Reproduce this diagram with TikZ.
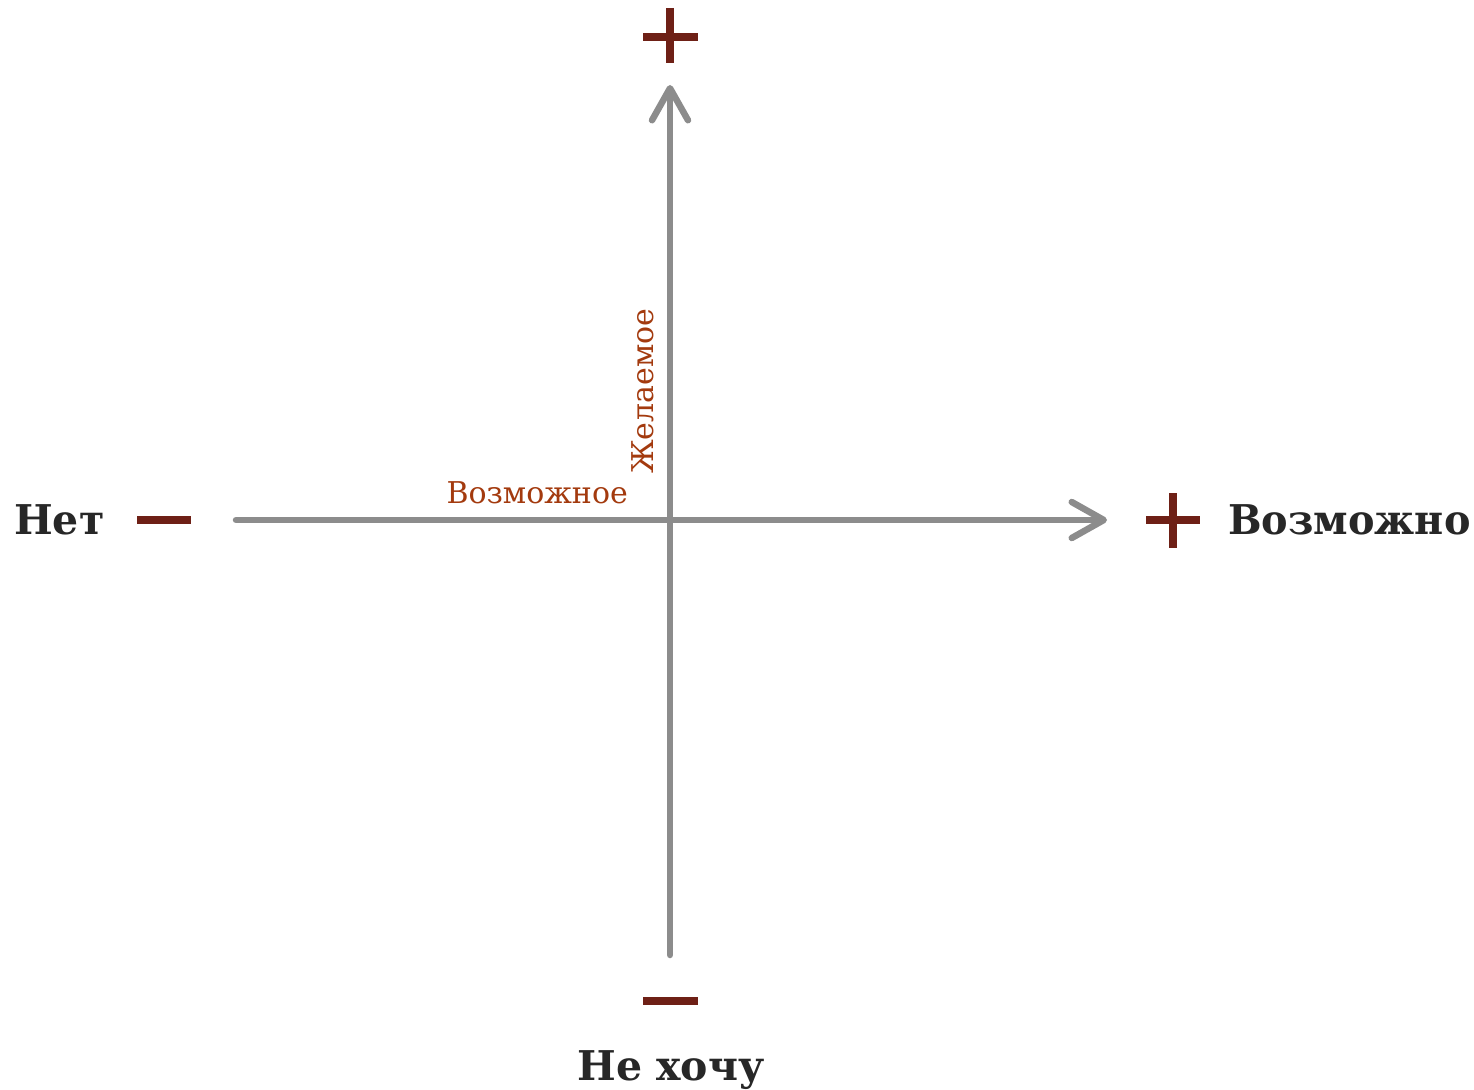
\documentclass[tikz,border=0pt]{standalone}
\usepackage{fontspec}
\setmainfont{DejaVu Serif}
\usetikzlibrary{arrows.meta}
\definecolor{axisgray}{HTML}{8C8C8C}
\definecolor{markred}{HTML}{6E2016}
\definecolor{labelorange}{HTML}{A33A0E}
\definecolor{textdark}{HTML}{272727}
\begin{document}
\begin{tikzpicture}[x=1pt,y=-1pt,
  axis/.style={draw=axisgray,line width=6.5pt,line cap=round,
    -{Straight Barb[length=32pt,width=36pt,round]}},
  signmark/.style={draw=markred,line width=8pt},
  bigword/.style={text=textdark,font=\bfseries\fontsize{41}{41}\selectfont,inner sep=0pt},
  smallword/.style={text=labelorange,font=\fontsize{30}{30}\selectfont,inner sep=0pt}]
\useasboundingbox (0,0) rectangle (1474,1089);
% axes
\coordinate (xs) at (236,520);
\coordinate (xe) at (1107,520);
\coordinate (ys) at (670,955);
\coordinate (ye) at (670,85);
\draw[axis] (xs) -- (xe);
\draw[axis] (ys) -- (ye);
% plus / minus marks
\coordinate (tp1) at (643,37); \coordinate (tp2) at (698,37);
\coordinate (tp3) at (670,8); \coordinate (tp4) at (670,63);
\draw[signmark] (tp1) -- (tp2); \draw[signmark] (tp3) -- (tp4);
\coordinate (rp1) at (1146,520); \coordinate (rp2) at (1200,520);
\coordinate (rp3) at (1173,493); \coordinate (rp4) at (1173,548);
\draw[signmark] (rp1) -- (rp2); \draw[signmark] (rp3) -- (rp4);
\coordinate (lm1) at (137,520); \coordinate (lm2) at (191,520);
\draw[signmark] (lm1) -- (lm2);
\coordinate (bm1) at (643,1001); \coordinate (bm2) at (698,1001);
\draw[signmark] (bm1) -- (bm2);
% labels
\node[bigword,anchor=base west] (net) at (14,534) {Нет};
\node[bigword,anchor=base west,xscale=0.97] (vozm) at (1228,534) {Возможно};
\node[bigword,anchor=base] (nekh) at (671,1080) {Не хочу};
\node[smallword,anchor=base east] (vozmoe) at (628,503) {Возможное};
\node[smallword,anchor=base west,rotate=90] (zhel) at (653,474) {Желаемое};
\end{tikzpicture}
\end{document}
